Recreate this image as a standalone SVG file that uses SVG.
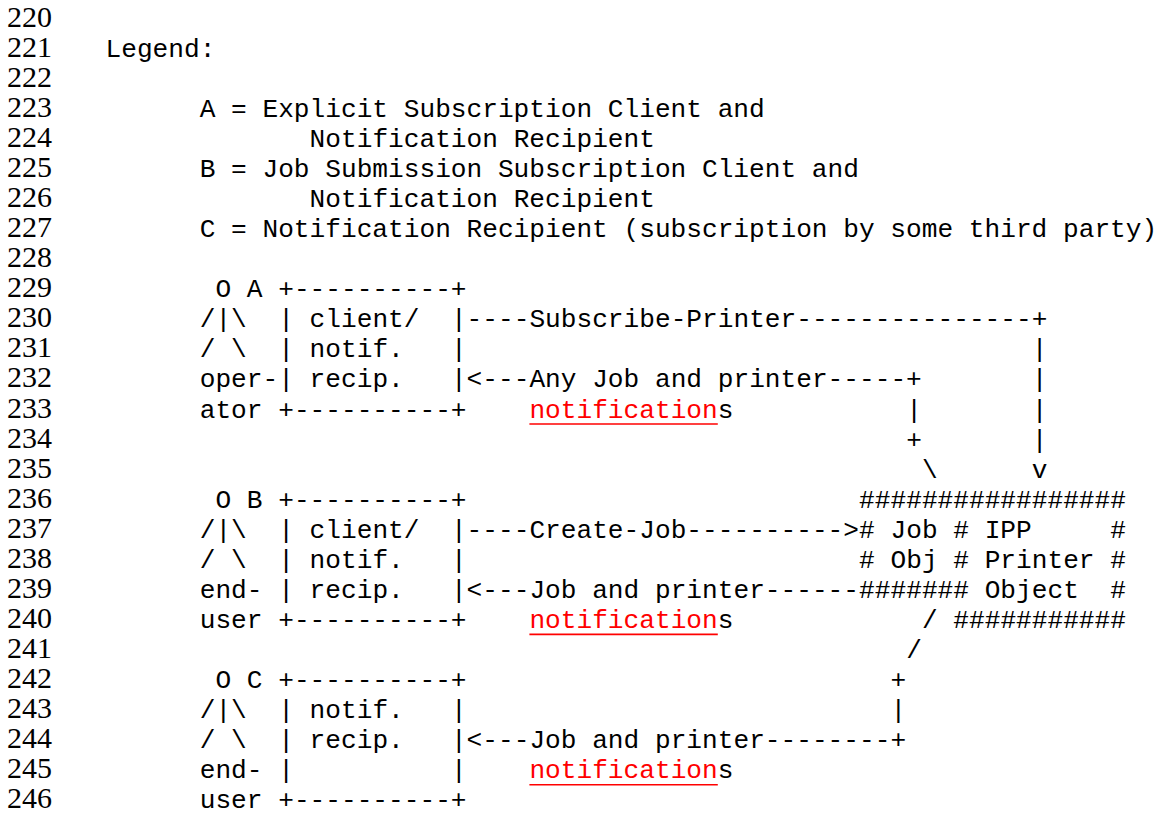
<svg xmlns="http://www.w3.org/2000/svg" width="1173" height="813" viewBox="0 0 1173 813">
<style>
.n{font-family:"Liberation Serif","Times New Roman",serif;font-size:30px;fill:#000}
.m{font-family:"Liberation Mono","Courier New",monospace;font-size:26.17px;fill:#000}
.r{fill:#ff0000}
.u{stroke:#ff0000;stroke-width:1.6}
</style>
<rect width="1173" height="813" fill="#fff"/>
<g id="line-numbers" class="n">
<text x="7" y="26.7">220</text>
<text x="7" y="56.8">221</text>
<text x="7" y="86.8">222</text>
<text x="7" y="116.9">223</text>
<text x="7" y="146.9">224</text>
<text x="7" y="177">225</text>
<text x="7" y="207.1">226</text>
<text x="7" y="237.1">227</text>
<text x="7" y="267.2">228</text>
<text x="7" y="297.2">229</text>
<text x="7" y="327.3">230</text>
<text x="7" y="357.4">231</text>
<text x="7" y="387.4">232</text>
<text x="7" y="417.5">233</text>
<text x="7" y="447.5">234</text>
<text x="7" y="477.6">235</text>
<text x="7" y="507.7">236</text>
<text x="7" y="537.7">237</text>
<text x="7" y="567.8">238</text>
<text x="7" y="597.8">239</text>
<text x="7" y="627.9">240</text>
<text x="7" y="658">241</text>
<text x="7" y="688">242</text>
<text x="7" y="718.1">243</text>
<text x="7" y="748.1">244</text>
<text x="7" y="778.2">245</text>
<text x="7" y="808.3">246</text>
</g>
<g id="legend" class="m">
<text x="105.5" y="56.8">Legend:</text>
<text x="199.7" y="116.9">A = Explicit Subscription Client and</text>
<text x="309.6" y="146.9">Notification Recipient</text>
<text x="199.7" y="177">B = Job Submission Subscription Client and</text>
<text x="309.6" y="207.1">Notification Recipient</text>
<text x="199.7" y="237.1">C = Notification Recipient (subscription by some third party)</text>
</g>
<g id="actor-A" class="m">
<text x="215.4" y="297.2">O A</text>
<text x="199.7" y="327.3">/|\</text>
<text x="199.7" y="357.4">/ \</text>
<text x="199.7" y="387.4">oper-</text>
<text x="199.7" y="417.5">ator</text>
</g>
<g id="box-A" class="m">
<text x="278.2" y="297.2">+----------+</text>
<text x="278.2" y="327.3">|</text><text x="309.6" y="327.3">client/</text><text x="450.9" y="327.3">|</text>
<text x="278.2" y="357.4">|</text><text x="309.6" y="357.4">notif.</text><text x="450.9" y="357.4">|</text>
<text x="278.2" y="387.4">|</text><text x="309.6" y="387.4">recip.</text><text x="450.9" y="387.4">|</text>
<text x="278.2" y="417.5">+----------+</text>
</g>
<g id="actor-B" class="m">
<text x="215.4" y="507.7">O B</text>
<text x="199.7" y="537.7">/|\</text>
<text x="199.7" y="567.8">/ \</text>
<text x="199.7" y="597.8">end-</text>
<text x="199.7" y="627.9">user</text>
</g>
<g id="box-B" class="m">
<text x="278.2" y="507.7">+----------+</text>
<text x="278.2" y="537.7">|</text><text x="309.6" y="537.7">client/</text><text x="450.9" y="537.7">|</text>
<text x="278.2" y="567.8">|</text><text x="309.6" y="567.8">notif.</text><text x="450.9" y="567.8">|</text>
<text x="278.2" y="597.8">|</text><text x="309.6" y="597.8">recip.</text><text x="450.9" y="597.8">|</text>
<text x="278.2" y="627.9">+----------+</text>
</g>
<g id="actor-C" class="m">
<text x="215.4" y="688">O C</text>
<text x="199.7" y="718.1">/|\</text>
<text x="199.7" y="748.1">/ \</text>
<text x="199.7" y="778.2">end-</text>
<text x="199.7" y="808.3">user</text>
</g>
<g id="box-C" class="m">
<text x="278.2" y="688">+----------+</text>
<text x="278.2" y="718.1">|</text><text x="309.6" y="718.1">notif.</text><text x="450.9" y="718.1">|</text>
<text x="278.2" y="748.1">|</text><text x="309.6" y="748.1">recip.</text><text x="450.9" y="748.1">|</text>
<text x="278.2" y="778.2">|</text><text x="450.9" y="778.2">|</text>
<text x="278.2" y="808.3">+----------+</text>
</g>
<g id="printer" class="m">
<text x="859.1" y="507.7">#################</text>
<text x="859.1" y="537.7"># Job # IPP</text><text x="1110.3" y="537.7">#</text>
<text x="859.1" y="567.8"># Obj # Printer #</text>
<text x="859.1" y="597.8">####### Object</text><text x="1110.3" y="597.8">#</text>
<text x="953.3" y="627.9">###########</text>
</g>
<g id="connectors" class="m">
<text x="466.6" y="327.3">----Subscribe-Printer---------------+</text>
<text x="1031.8" y="357.4">|</text>
<text x="466.6" y="387.4">&lt;---Any Job and printer-----+</text>
<text x="1031.8" y="387.4">|</text>
<text x="529.4" y="417.5"><tspan class="r">notification</tspan>s</text>
<line class="u" x1="529.4" y1="424" x2="717.8" y2="424"/>
<text x="906.2" y="417.5">|</text>
<text x="1031.8" y="417.5">|</text>
<text x="906.2" y="447.5">+</text>
<text x="1031.8" y="447.5">|</text>
<text x="921.9" y="477.6">\</text>
<text x="1031.8" y="477.6">v</text>
<text x="466.6" y="537.7">----Create-Job----------&gt;</text>
<text x="466.6" y="597.8">&lt;---Job and printer------</text>
<text x="529.4" y="627.9"><tspan class="r">notification</tspan>s</text>
<line class="u" x1="529.4" y1="634.4" x2="717.8" y2="634.4"/>
<text x="921.9" y="627.9">/</text>
<text x="906.2" y="658">/</text>
<text x="890.5" y="688">+</text>
<text x="890.5" y="718.1">|</text>
<text x="466.6" y="748.1">&lt;---Job and printer--------+</text>
<text x="529.4" y="778.2"><tspan class="r">notification</tspan>s</text>
<line class="u" x1="529.4" y1="784.7" x2="717.8" y2="784.7"/>
</g>
</svg>
